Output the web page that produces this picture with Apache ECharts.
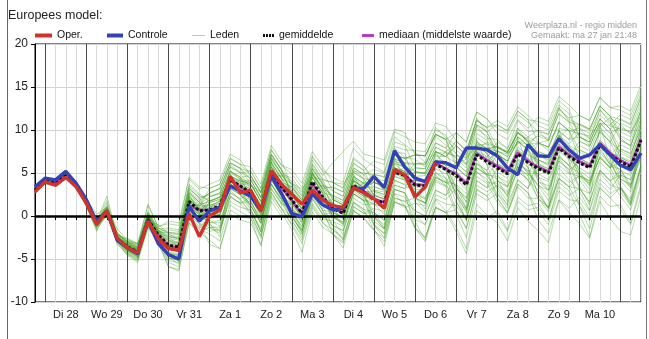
<!DOCTYPE html>
<html>
<head>
<meta charset="utf-8">
<script src="https://cdn.jsdelivr.net/npm/echarts@6/dist/echarts.min.js"></script>
<style>
html,body{margin:0;padding:0;background:#fff;}
#c{width:649px;height:339px;}
</style>
</head>
<body>
<div id="c"></div>
<script>
// Time axis: one step every 6 hours, first step is ma 27 jan 18:00
const startUur = 18;
const stapUren = 6;
const aantalStappen = 60;

// Day labels, placed at 12:00 of each day
const dagen = ['Di 28','Wo 29','Do 30','Vr 31','Za 1','Zo 2','Ma 3','Di 4','Wo 5','Do 6','Vr 7','Za 8','Zo 9','Ma 10'];

// y-axis
const yMin = -10, yMax = 20, yStap = 5;

// Operational run (°C)
const oper = [2.8, 4.0,3.6,4.5,3.4, 1.5,-1.0,0.6,-2.6, -3.7,-4.3,-0.6,-2.6, -3.8,-4.0,0.3,-2.4,
  0.0,0.7,4.6,2.7, 3.0,0.6,5.3,3.7, 2.5,1.4,3.0,1.9, 1.2,1.0,3.3,2.7, 2.0,0.9,5.4,4.8, 2.2,3.4,6.2];

// Control run (°C)
const controle = [3.4, 4.4,4.2,5.2,3.8, 1.9,-0.7,0.6,-2.8, -3.7,-4.4,-0.5,-3.2, -4.5,-5.0,1.1,-0.6,
  0.6,1.0,3.5,2.9, 2.3,0.6,4.7,2.6, 0.3,-0.1,2.6,1.3, 0.7,0.9,3.2,3.2, 4.6,3.3,7.6,5.7,
  4.4,4.0,6.3,6.2, 5.6,7.9,7.9,7.7, 7.0,5.6,4.8,8.3, 7.0,6.9,9.0,7.7, 6.7,7.1,8.3,7.1, 5.9,5.4,7.3];

// Ensemble mean (°C)
const gemiddelde = [3.0, 4.1,3.8,4.7,3.6, 1.6,-0.9,0.6,-2.6, -3.6,-4.2,-0.4,-2.2, -3.4,-3.6,1.7,0.6,
  0.7,1.2,4.2,3.5, 2.7,0.7,5.2,3.4, 1.9,0.3,4.0,2.2, 0.9,0.3,3.6,2.8, 1.9,1.5,5.1,4.7,
  3.6,3.5,6.0,5.4, 4.7,3.6,7.1,6.3, 5.6,4.9,7.2,6.2, 5.5,5.0,7.9,6.9, 6.2,5.6,8.3,7.1, 6.3,5.7,8.8];

// Ensemble median (°C)
const mediaan = [3.0, 4.1,3.8,4.7,3.6, 1.6,-0.9,0.6,-2.6, -3.6,-4.2,-0.4,-2.3, -3.5,-3.7,1.2,0.7,
  0.7,1.1,4.3,3.4, 2.6,0.6,5.0,3.3, 1.8,0.2,3.8,2.1, 0.8,0.4,3.5,2.9, 2.0,1.6,5.2,4.8,
  3.7,3.6,6.2,5.5, 4.9,3.8,7.3,6.5, 5.8,5.1,7.4,6.4, 5.7,5.2,8.1,7.1, 6.4,5.8,8.5,7.3, 6.5,5.9,9.0];

// Ensemble members (°C)
const leden = [
 [2.7, 3.9,3.6,4.5,3.3, 1.3,-1.2,0.4,-2.9, -4.1,-4.8,-0.8,-2.7, -4.5,-5.2,0.6,-0.8, -1.4,-2.0,2.4,1.4, 0.2,-2.3,2.8,0.8, -0.9,-2.8,1.3,-0.7, -2.1,-3.2,0.7,-0.3, -1.7,-2.6,1.7,1.0, 1.5,1.2,4.2,3.5, 5.0,4.0,7.8,6.9, 8.0,7.5,9.8,8.6, 9.3,8.8,11.9,10.9, 10.6,10.0,12.8,11.6, 11.2,10.6,13.9],
 [3.2, 4.4,4.1,5.0,3.9, 2.1,-0.4,1.1,-2.0, -2.9,-3.3,0.4,-1.4, -1.9,-2.0,3.3,2.0, 2.6,3.2,6.1,5.6, 4.2,2.2,6.8,4.9, 2.9,1.2,5.1,3.4, 3.3,2.8,6.2,5.3, 6.4,6.0,9.8,9.2, 8.6,8.4,10.8,10.4, 8.8,7.5,11.2,10.2, 8.1,7.3,9.7,8.8, 6.6,5.8,8.9,7.9, 5.3,4.4,7.4,6.0, 4.3,3.5,6.9],
 [2.9, 4.1,3.9,4.6,3.5, 1.4,-1.1,0.5,-2.8, -4.2,-4.8,-1.0,-2.8, -4.3,-4.5,1.0,-0.1, 1.0,1.8,4.6,4.1, 3.8,1.6,6.3,4.3, 3.8,2.3,6.1,4.3, 3.9,3.2,6.8,5.8, 4.3,4.1,7.4,7.3, 3.6,3.4,6.1,5.4, 2.3,0.6,4.6,3.8, 1.6,0.3,3.4,2.1, 2.0,1.0,4.3,3.4, 4.7,3.8,7.0,5.6, 7.8,7.3,10.2],
 [3.3, 4.3,4.0,4.9,3.8, 2.0,-0.5,1.8,-2.2, -2.6,-3.2,1.2,-1.2, -0.9,-1.1,4.3,3.1, 3.7,4.2,7.2,6.5, 4.7,2.7,7.1,5.4, 2.4,0.8,4.5,2.7, -0.1,-1.0,2.6,1.8, -0.6,-1.5,2.6,2.2, -0.4,-1.0,2.0,1.4, 1.2,-0.4,3.6,2.8, 3.6,2.6,5.2,4.2, 5.5,5.0,7.9,6.9, 8.7,8.1,10.8,9.6, 10.3,9.7,12.8],
 [2.6, 3.8,3.5,4.4,3.3, 1.1,-1.5,0.1,-3.1, -4.4,-5.1,-1.2,-3.0, -5.4,-5.9,-0.3,-1.4, -0.8,-0.5,2.7,2.0, 2.7,0.6,5.2,3.4, 3.4,1.8,5.5,3.7, 1.9,1.3,4.6,3.8, 1.9,1.3,5.1,4.7, 5.6,5.5,8.0,7.4, 8.7,7.6,11.1,10.3, 11.1,10.4,12.7,11.7, 10.5,10.0,12.9,11.9, 9.2,8.6,11.3,10.1, 6.8,6.2,9.3],
 [3.0, 4.2,3.9,4.8,3.7, 1.9,-0.6,0.9,-2.1, -3.1,-3.7,0.1,-1.7, -3.4,-3.6,1.7,0.6, -0.3,0.2,3.2,2.5, 0.7,-1.5,3.2,1.4, 0.9,-0.9,3.0,1.2, 1.4,0.8,4.1,3.3, 3.9,3.5,7.1,6.7, 7.1,7.0,9.5,8.9, 9.7,8.6,12.1,11.3, 9.6,8.9,11.2,10.2, 11.5,11.0,13.9,12.9, 11.7,11.1,13.8,12.6, 12.3,11.7,14.8],
 [3.2, 4.2,3.9,4.8,3.7, 1.5,-1.0,0.5,-2.7, -3.9,-4.5,-0.7,-2.5, -2.6,-2.8,2.5,1.4, 2.2,2.7,5.7,5.0, 5.2,3.2,7.7,5.9, 4.9,3.3,7.0,5.2, 2.9,2.3,5.6,4.8, 3.4,3.0,6.6,6.2, 2.1,1.5,4.5,3.9, 0.7,-1.5,3.1,2.3, 0.1,-1.8,1.7,0.7, 1.0,-0.5,3.4,2.4, 3.2,1.6,5.3,4.1, 2.3,0.7,4.8],
 [2.8, 4.0,3.7,4.6,3.5, 1.8,-0.7,0.8,-2.4, -3.3,-3.9,-0.1,-1.9, -3.9,-4.1,1.2,0.1, 0.2,0.7,3.7,3.0, 1.2,-0.8,3.7,1.9, -0.6,-2.2,1.5,-0.3, -0.6,-1.2,2.1,1.3, 1.4,1.0,4.6,4.2, 4.1,4.0,6.5,5.9, 5.7,4.6,8.1,7.3, 4.1,3.4,5.7,4.7, 2.0,1.0,4.4,3.4, 1.2,-0.6,3.3,2.1, 0.8,-1.0,3.3],
 [3.1, 4.4,4.1,5.0,3.9, 1.6,-0.9,1.5,-2.6, -3.2,-3.8,0.0,-1.8, -1.6,-1.8,3.5,2.4, 1.7,2.2,5.2,4.5, 3.2,1.2,5.7,3.9, 1.9,0.3,4.0,2.2, 1.4,0.8,4.1,3.3, 3.4,3.0,6.6,6.2, 6.1,6.0,8.5,7.9, 6.7,5.6,9.1,8.3, 6.1,5.4,7.7,6.7, 4.0,3.5,6.4,5.4, 6.2,5.6,8.3,7.1, 8.3,7.7,10.8],
 [2.7, 3.7,3.4,4.3,3.2, 1.4,-1.1,0.4,-2.8, -4.4,-5.0,-1.2,-3.0, -5.9,-6.2,-0.8,-1.9, -1.3,-1.3,2.2,1.5, 1.7,-0.5,4.2,2.4, 1.4,-0.2,3.5,1.7, -0.1,-0.9,2.6,1.8, -1.1,-2.0,2.1,1.7, 0.6,0.0,3.0,2.4, 3.7,2.6,6.1,5.3, 7.1,6.4,8.7,7.7, 8.5,8.0,10.9,9.9, 7.7,7.1,9.8,8.6, 6.3,5.7,8.8],
 [3.4, 4.4,4.1,5.0,3.9, 1.8,-0.7,0.8,-2.4, -3.0,-3.6,0.2,-1.6, -2.4,-2.6,2.7,1.6, 0.2,0.7,3.7,3.0, 1.2,-0.8,3.7,1.9, -0.1,-1.7,2.0,0.2, -1.6,-2.7,1.1,0.3, 0.4,-0.5,3.6,3.2, 5.1,5.0,7.5,6.9, 8.2,7.1,10.6,9.8, 10.6,9.9,12.2,11.2, 8.5,8.0,10.9,9.9, 6.7,6.1,8.8,7.6, 5.8,5.2,8.3],
 [3.0, 3.9,3.6,4.5,3.4, 1.6,-0.9,0.6,-2.6, -4.0,-4.6,-0.8,-2.6, -4.4,-4.6,0.7,-0.4, 0.7,1.2,4.2,3.5, 4.2,2.2,6.7,4.9, 4.4,2.8,6.5,4.7, 6.2,7.5,8.7,7.2, 6.9,6.5,10.1,9.7, 7.1,7.0,9.5,8.9, 5.7,4.6,8.1,7.3, 5.6,4.9,7.2,6.2, 7.0,6.5,9.4,8.4, 9.7,9.1,11.8,10.6, 11.8,11.2,14.3],
 [2.9, 4.3,4.0,4.9,3.8, 1.7,-0.8,0.7,-2.5, -3.4,-4.0,-0.2,-2.0, -2.9,-3.1,2.2,1.1, 3.2,3.7,6.7,6.0, 5.7,3.7,8.2,6.4, 3.4,1.8,5.5,3.7, 0.9,0.3,3.6,2.8, -0.1,-1.5,3.1,2.7, 0.1,-1.0,2.5,1.9, 3.2,2.1,5.6,4.8, 6.1,5.4,7.7,6.7, 4.5,4.0,6.9,5.9, 3.2,2.6,5.3,4.1, 4.8,4.2,7.3],
 [3.3, 4.1,3.8,4.7,3.6, 1.3,-1.2,0.3,-2.9, -3.8,-4.4,-0.6,-2.4, -4.9,-5.1,0.2,-0.9, -1.8,-1.5,1.7,1.0, 0.7,-1.8,3.2,1.4, 1.4,-0.2,3.5,1.7, 1.9,1.3,4.6,3.8, 4.9,4.5,8.1,7.7, 7.6,7.5,10.0,9.4, 7.2,6.1,9.6,8.8, 5.1,4.4,6.7,5.7, 2.5,1.0,4.9,3.9, 4.7,4.1,6.8,5.6, 8.8,8.2,11.3],
 [2.8, 4.2,3.9,4.8,3.7, 2.0,-0.5,1.0,-2.2, -2.9,-3.5,0.3,-1.5, -1.4,-1.6,3.7,2.6, 1.7,2.2,5.2,4.5, 2.2,0.2,4.7,2.9, 0.4,-1.2,2.5,0.7, -1.1,-1.7,1.6,0.8, -1.6,-3.0,1.6,1.2, -1.4,-2.5,1.0,0.4, 1.7,-0.4,4.1,3.3, 5.6,4.9,7.2,6.2, 8.5,8.0,10.9,9.9, 10.2,9.6,12.3,11.1, 8.8,8.2,11.3],
 [3.1, 4.0,3.7,4.6,3.5, 1.3,-1.2,0.3,-2.9, -3.9,-4.5,-0.7,-2.5, -3.1,-3.3,2.0,0.9, 1.2,1.7,4.7,4.0, 3.7,1.7,6.2,4.4, 2.9,1.3,5.0,3.2, 2.4,1.8,5.1,4.3, 2.4,2.0,5.6,5.2, 3.1,3.0,5.5,4.9, 5.2,4.1,7.6,6.8, 8.6,7.9,10.2,9.2, 10.0,9.5,12.4,11.4, 11.7,11.1,13.8,12.6, 12.8,12.2,15.3],
 [2.7, 3.9,3.6,4.5,3.4, 1.7,-0.8,0.7,-2.5, -3.6,-4.2,-0.4,-2.2, -4.2,-4.4,0.9,-0.2, -0.3,0.2,3.2,2.5, 3.2,1.2,5.7,3.9, 1.9,0.3,4.0,2.2, -0.1,-0.7,2.6,1.8, 1.9,1.5,5.1,4.7, 6.1,6.0,8.5,7.9, 9.7,8.6,12.1,11.3, 10.2,9.6,11.8,10.9, 9.8,9.5,12.6,11.2, 10.7,10.1,12.8,11.6, 9.3,8.7,11.8],
 [3.2, 4.3,4.0,4.9,3.8, 1.6,-0.9,0.6,-2.6, -3.1,-3.7,0.1,-1.7, -2.2,-2.4,2.9,1.8, 2.7,3.2,6.2,5.5, 3.7,1.7,6.2,4.4, 0.9,-0.7,3.0,1.2, -1.1,-1.7,1.6,0.8, 0.4,-0.5,3.6,3.2, 3.6,3.5,6.0,5.4, 2.7,0.8,5.1,4.3, 2.1,0.4,3.7,2.7, 0.5,-1.0,2.9,1.9, 1.7,-0.2,3.8,2.6, 3.3,1.7,5.8],
 [3.0, 4.2,3.9,4.8,3.7, 1.2,-1.3,0.2,-3.0, -4.3,-4.9,-1.1,-2.9, -5.2,-5.4,-0.1,-1.2, -0.3,0.2,3.2,2.5, 1.2,-0.8,3.7,1.9, 0.9,-0.7,3.0,1.2, 0.9,0.3,3.6,2.8, 2.9,2.5,6.1,5.7, 4.1,4.0,6.5,5.9, 3.2,1.6,5.6,4.8, 2.6,1.4,4.2,3.2, 5.5,5.0,7.9,6.9, 8.2,7.6,10.3,9.1, 6.8,6.2,9.3],
 [3.4, 4.3,4.0,4.9,3.8, 1.9,-0.6,2.3,-2.3, -2.7,-3.3,1.4,-1.3, -0.6,-0.8,4.5,3.4, 3.2,3.7,6.7,6.0, 4.7,2.7,7.2,5.4, 3.9,2.3,6.0,4.2, 1.9,1.3,4.6,3.8, 3.9,3.5,7.1,6.7, 7.1,7.0,9.5,8.9, 7.7,6.6,10.1,9.3, 7.1,6.4,8.7,7.7, 6.0,5.5,8.4,7.4, 4.7,3.6,6.8,5.6, 3.3,2.0,5.8],
 [2.8, 3.8,3.5,4.4,3.3, 1.6,-0.9,0.6,-2.6, -3.9,-4.5,-0.7,-2.5, -3.4,-3.6,1.7,0.6, 1.5,2.0,5.0,4.3, 2.2,-0.2,4.7,2.9, 0.4,-1.2,2.5,0.7, 0.4,-0.2,3.1,2.3, 2.4,2.0,5.6,5.2, 1.6,0.5,4.0,3.4, 0.2,-2.5,2.6,1.8, 2.6,0.9,4.2,3.2, 6.5,6.0,8.9,7.9, 6.2,5.6,8.3,7.1, 4.3,3.7,6.8],
 [3.1, 4.1,3.8,4.7,3.6, 1.8,-0.7,0.8,-2.4, -3.4,-4.0,-0.2,-2.0, -3.7,-3.9,1.4,0.3, -0.8,-0.8,2.7,2.0, 0.2,-2.3,2.7,0.9, -1.1,-3.2,1.0,-0.8, -1.6,-2.5,1.1,0.3, 0.9,0.5,4.1,3.7, 3.6,3.5,6.0,5.4, 6.2,5.1,8.6,7.8, 8.1,7.4,9.7,8.7, 5.5,5.0,7.9,6.9, 4.2,2.6,6.3,5.1, 2.8,1.2,5.3],
 [2.9, 4.2,3.9,4.8,3.7, 1.5,-1.0,0.5,-2.7, -3.5,-4.1,-0.3,-2.1, -2.4,-2.6,2.7,1.6, 0.7,1.2,4.2,3.5, 3.2,1.2,5.7,3.9, 3.4,1.8,5.5,3.7, 2.9,2.3,5.6,4.8, 5.4,5.0,8.6,8.2, 5.6,5.5,8.0,7.4, 4.7,3.6,7.1,6.3, 7.6,6.9,9.2,8.2, 9.5,9.0,11.9,10.9, 8.7,8.1,10.8,9.6, 7.3,6.7,9.8],
 [3.2, 4.4,4.1,5.0,3.9, 1.9,-0.6,0.9,-2.3, -4.1,-4.7,-0.9,-2.7, -4.4,-4.6,0.7,-0.4, 1.7,2.2,5.2,4.5, 4.7,2.7,7.2,5.4, 2.4,0.8,4.5,2.7, 0.4,-0.2,3.1,2.3, 1.9,1.5,5.1,4.7, 5.1,5.0,7.5,6.9, 8.2,7.1,10.6,9.8, 7.1,6.4,8.7,7.7, 4.5,3.0,6.9,5.9, 7.7,7.1,9.8,8.6, 10.8,10.2,13.3],
 [2.6, 4.0,3.7,4.6,3.5, 1.4,-1.1,0.4,-2.8, -3.3,-3.9,-0.1,-1.9, -1.9,-2.1,3.2,2.1, 0.2,0.7,3.7,3.0, 1.7,-0.5,4.2,2.4, 2.4,0.8,4.5,2.7, 2.4,1.8,5.1,4.3, 2.4,2.0,5.6,5.2, 2.1,1.5,4.5,3.9, 3.7,1.6,6.1,5.3, 2.1,0.4,3.7,2.7, -0.5,-2.0,1.9,0.9, 2.2,0.6,4.3,3.1, 4.8,3.2,7.3],
 [3.0, 4.1,3.8,4.7,3.6, 1.7,-0.8,0.7,-2.5, -3.7,-4.3,-0.5,-2.3, -3.9,-4.1,1.2,0.1, 2.2,2.7,5.7,5.0, 3.2,1.2,5.7,3.9, 1.4,-0.2,3.5,1.7, 0.9,0.3,3.6,2.8, -1.1,-2.5,2.1,1.7, 2.1,1.5,4.5,3.9, 5.7,4.6,8.1,7.3, 5.6,4.9,7.2,6.2, 7.5,7.0,9.9,8.9, 10.7,10.1,12.8,11.6, 9.8,9.2,12.3],
 [3.3, 4.2,3.9,4.8,3.7, 1.4,-1.1,0.4,-2.8, -3.4,-4.0,-0.2,-2.0, -2.8,-3.0,2.3,1.2, 1.2,1.7,4.7,4.0, 4.2,2.2,6.7,4.9, 2.9,1.3,5.0,3.2, -0.1,-0.7,2.6,1.8, 1.4,1.0,4.6,4.2, 4.1,4.0,6.5,5.9, 3.2,2.1,5.6,4.8, 4.6,3.9,6.2,5.2, 3.5,3.0,5.9,4.9, 6.7,6.1,8.8,7.6, 4.8,4.2,7.3],
 [2.9, 3.9,3.6,4.5,3.4, 1.8,-0.7,0.8,-2.4, -3.8,-4.4,-0.6,-2.4, -3.6,-3.8,1.5,0.4, 0.2,0.7,3.7,3.0, 2.7,0.7,5.2,3.4, 2.4,0.8,4.5,2.7, 1.4,0.8,4.1,3.3, 3.9,3.5,7.1,6.7, 7.1,7.0,9.5,8.9, 6.2,5.1,8.6,7.8, 8.1,7.4,9.7,8.7, 6.0,5.5,8.4,7.4, 4.7,4.1,6.8,5.6, 6.3,5.7,8.8],
 [3.2, 4.3,4.0,4.9,3.8, 1.7,-0.8,0.7,-2.5, -3.1,-3.7,0.1,-1.7, -3.2,-3.4,1.9,0.8, -1.3,-1.8,2.2,1.5, 2.2,0.2,4.7,2.9, 2.9,1.3,5.0,3.2, 3.4,2.8,6.1,5.3, 2.9,2.5,6.1,5.7, 2.6,2.0,5.0,4.4, 1.7,-0.4,4.1,3.3, 4.1,3.4,5.7,4.7, 7.5,7.0,9.9,8.9, 9.2,8.6,11.3,10.1, 7.8,7.2,10.3],
 [2.8, 4.0,3.7,4.6,3.5, 1.3,-1.2,0.3,-2.9, -3.6,-4.2,-0.4,-2.2, -3.7,-3.9,1.4,0.3, 1.0,1.5,4.5,3.8, 1.7,-0.5,4.2,2.4, -0.1,-1.7,2.0,0.2, 0.4,-0.2,3.1,2.3, -0.1,-1.5,3.1,2.7, 0.6,0.0,3.0,2.4, 4.7,3.6,7.1,6.3, 7.6,6.9,9.2,8.2, 4.0,3.0,6.4,5.4, 1.2,-1.5,3.3,2.1, 3.3,1.2,5.8],
 [2.9, 3.8,3.5,4.4,3.3, 1.1,-1.6,0.1,-3.1, -4.6,-5.4,-1.4,-3.2, -5.9,-6.4,-0.8,-1.9, -2.8,-3.8,0.7,0.0, -0.3,-3.5,2.2,0.4, -1.6,-4.2,0.5,-1.3, -2.1,-3.7,0.6,-0.2, -1.6,-3.5,1.6,1.2, -1.4,-3.0,1.0,0.4, -1.8,-4.4,0.6,-0.2, 0.6,-1.6,2.2,1.2, 1.5,-0.5,3.9,2.9, 0.2,-2.4,2.3,1.1, 1.3,-0.8,3.8],
 [3.1, 4.3,4.0,4.9,3.8, 2.0,-0.5,1.0,-2.2, -3.3,-3.9,-0.1,-1.9, -2.4,-2.6,2.7,1.6, 2.7,3.2,6.2,5.5, 5.2,3.2,7.7,5.9, 5.4,3.8,7.5,5.7, 3.9,3.3,6.6,5.8, 3.9,3.5,7.1,6.7, 5.1,5.0,7.5,6.9, 8.7,7.6,11.1,10.3, 10.6,9.9,12.2,11.2, 11.0,10.5,13.4,12.4, 9.2,8.6,11.3,10.1, 11.3,10.7,13.8],
 [2.8, 4.0,3.7,4.6,3.5, 1.6,-0.9,0.6,-2.6, -4.0,-4.6,-0.8,-2.6, -4.9,-5.1,0.2,-0.9, -3.3,-3.8,0.2,-0.5, -0.8,-3.3,1.7,-0.1, 0.4,-1.7,2.5,0.7, -2.1,-3.0,0.6,-0.2, -0.1,-1.0,3.1,2.7, -1.4,-2.5,1.0,0.4, 0.7,-1.4,3.1,2.3, 3.6,2.4,5.2,4.2, 2.0,0.5,4.4,3.4, 3.2,1.6,5.3,4.1, 5.3,4.7,7.8],
 [3.0, 4.0,3.8,4.4,3.7, 2.0,0.2,1.0,-1.5, -2.8,-3.2,-0.5,-1.0, -2.0,-2.2,1.5,1.2, 1.8,2.2,3.9,3.8, 3.5,2.8,5.0,4.6, 3.8,3.1,4.6,4.2, 3.9,3.7,5.2,5.0, 4.8,4.6,6.3,6.1, 6.0,6.2,7.4,7.3, 7.0,6.8,8.3,8.0, 7.5,7.2,8.6,8.3, 8.5,8.8,10.2,9.9, 9.6,9.3,10.8,10.5, 10.1,9.8,11.6],
 [2.9, 4.0,3.5,4.8,3.4, 1.2,-1.8,0.9,-3.3, -4.5,-5.2,0.2,-2.9, -4.6,-5.3,2.5,0.3, -0.9,-2.4,4.9,2.8, 0.9,-1.9,6.3,3.0, 0.2,-2.1,5.2,2.1, -0.5,-2.2,4.9,2.4, 0.5,-1.4,6.8,4.3, 2.2,0.8,7.6,5.2, 2.6,-0.6,8.9,5.9, 3.1,1.2,9.2,5.5, 2.5,0.9,10.1,6.3, 3.4,1.3,10.6,6.6, 3.5,1.4,11.2],
 [3.1, 4.2,4.0,4.5,4.1, 2.2,-0.3,0.3,-1.9, -3.2,-3.9,-1.2,-1.6, -2.8,-3.5,0.6,1.4, 1.6,1.9,3.3,4.4, 3.8,2.1,4.1,4.8, 3.2,1.5,2.9,3.6, 2.1,1.2,2.8,3.9, 3.0,2.8,4.6,5.8, 5.2,4.9,6.4,7.5, 6.8,6.0,7.7,8.6, 8.0,7.3,8.4,9.2, 8.5,7.6,9.1,10.3, 9.4,8.2,10.5,11.4, 10.6,9.5,12.2],
 [2.8, 3.9,3.6,4.5,3.2, 1.2,-1.3,0.3,-3.0, -4.0,-4.6,-0.9,-2.8, -4.3,-4.9,1.0,-0.5, -1.0,-1.7,3.0,1.8, 0.5,-1.8,3.8,1.5, -0.4,-2.5,2.3,0.2, -1.2,-2.8,1.6,0.5, -0.9,-2.1,2.6,1.2, -0.6,-2.8,1.9,0.6, -1.3,-3.8,1.4,0.1, -0.8,-2.9,1.0,-0.6, -1.7,-3.1,1.8,0.4, -0.9,-2.6,1.7,-0.3, -1.8,-2.2,2.4],
 [3.0, 4.2,3.8,4.7,3.6, 1.5,-1.0,0.5,-2.5, -3.5,-4.0,-0.3,-2.0, -3.0,-3.2,2.2,1.0, 1.4,1.0,5.3,4.2, 3.6,1.8,6.5,4.8, 4.1,2.6,6.8,5.3, 4.5,3.9,7.9,6.6, 5.8,5.1,9.2,8.3, 7.4,6.2,10.3,9.1, 8.2,6.8,11.4,9.7, 7.5,6.1,10.2,8.4, 6.3,4.8,9.4,7.5, 5.2,3.5,8.6,6.2, 4.1,2.8,7.9],
 [3.2, 4.1,3.9,4.6,3.5, 1.4,-0.8,0.8,-2.3, -3.3,-3.8,-0.2,-2.4, -3.8,-4.2,0.8,-0.3, -0.5,-1.2,3.6,2.4, 1.5,-0.9,4.4,2.0, 0.6,-1.5,3.3,1.4, 0.8,-0.4,4.0,2.9, 2.6,1.8,6.0,5.1, 4.5,3.8,7.2,6.1, 5.0,3.3,7.6,6.0, 4.8,3.4,6.5,4.9, 3.5,1.8,5.6,4.2, 2.9,0.7,5.0,3.6, 3.2,1.5,6.1],
 [3.1, 4.3,3.9,4.9,3.7, 1.8,-0.5,1.2,-2.0, -3.0,-3.4,0.6,-1.4, -2.1,-2.7,3.1,2.2, 2.4,2.5,5.9,5.1, 4.4,2.9,7.0,5.3, 3.6,2.0,5.8,3.9, 2.2,1.5,5.4,4.4, 4.0,3.1,7.9,6.8, 6.6,5.7,9.3,8.2, 7.3,5.9,10.5,9.0, 8.9,7.8,11.1,9.8, 9.9,8.7,12.6,11.0, 10.2,8.9,12.4,10.8, 9.1,8.0,12.5],
 [2.9, 4.0,3.7,4.6,3.4, 1.4,-1.3,0.2,-2.9, -3.9,-4.7,-1.1,-2.9, -4.8,-5.6,-0.4,-1.5, -2.1,-2.9,1.3,0.5, -0.2,-2.6,2.4,0.9, -0.1,-1.9,2.9,1.8, 1.2,0.1,4.3,3.0, 2.4,1.1,5.7,4.0, 2.8,1.4,6.1,4.3, 3.5,0.9,6.6,4.6, 3.4,1.7,5.8,4.1, 3.0,0.8,6.8,5.0, 4.6,3.1,8.1,5.8, 5.4,3.3,9.6],
 [3.3, 4.3,4.1,4.8,3.9, 2.0,-0.4,0.9,-2.1, -3.0,-3.6,0.3,-1.7, -2.6,-3.2,2.0,0.9, 0.5,0.1,4.1,3.0, 2.2,0.1,5.3,3.6, 2.0,0.2,4.9,3.1, 1.6,0.4,4.4,3.6, 2.8,2.2,6.4,5.7, 4.6,4.7,7.0,6.9, 6.2,6.6,8.2,8.4, 7.9,7.4,9.6,9.0, 7.4,6.2,9.0,8.1, 6.9,5.9,8.3,7.0, 6.1,5.0,8.5],
 [2.7, 3.8,3.5,4.4,3.3, 1.5,-1.2,0.5,-2.7, -3.8,-4.5,-0.5,-2.4, -3.6,-4.0,1.3,0.2, 0.0,0.4,3.9,3.2, 2.0,0.3,4.6,2.7, 1.1,-0.5,3.4,1.5, 0.2,-0.9,2.9,2.0, 1.4,0.2,4.2,3.6, 2.8,1.9,4.8,3.5, 2.5,0.4,5.2,3.9, 3.8,2.8,6.0,5.3, 4.9,4.2,7.5,6.6, 5.6,4.9,8.1,7.3, 6.9,6.4,9.9],
 [3.1, 4.2,3.9,4.7,3.7, 1.7,-0.8,0.7,-2.5, -3.6,-4.1,-0.4,-2.1, -3.3,-3.5,1.9,0.8, 1.0,1.5,4.5,3.9, 3.1,1.3,5.9,4.3, 2.7,0.9,4.8,3.0, 1.5,0.6,4.2,3.4, 2.2,1.0,5.3,4.5, 3.0,2.1,5.1,4.0, 2.9,0.8,6.0,4.9, 4.3,2.2,6.6,5.0, 3.7,2.4,7.1,5.8, 5.0,3.8,7.7,6.1, 5.4,3.6,8.0],
 [3.0, 4.1,3.8,4.6,3.6, 1.6,-0.9,0.7,-2.6, -3.7,-4.3,-0.6,-2.3, -3.5,-3.8,1.6,0.4, 0.4,0.9,4.0,3.2, 2.4,0.4,4.9,3.1, 1.6,0.0,3.8,2.0, 0.6,-0.2,3.2,2.5, 1.6,1.2,4.9,4.4, 3.4,3.2,6.2,5.6, 4.4,3.0,7.4,6.6, 6.0,5.2,8.0,7.1, 6.5,6.1,9.3,8.2, 7.5,6.7,10.0,8.6, 7.6,6.9,10.9]
];

const FONT = '"Liberation Sans", Arial, Helvetica, sans-serif';
const KLEUR_OPER = '#d2322c';
const KLEUR_CONTROLE = '#3340b6';
const KLEUR_LEDEN = '#3f9f1f';
const KLEUR_MEDIAAN = '#b83cc4';

// Step indices falling on midnight (day separators) and noon (day labels)
const uurVan = i => (startUur + i * stapUren) % 24;
const stappen = Array.from({length: aantalStappen}, (_, i) => i);
const middernacht = stappen.filter(i => uurVan(i) === 0);
const middag = stappen.filter(i => uurVan(i) === 12);

const punten = arr => arr.map((v, i) => [i, v]);

const series = [];

// Day separators (dark vertical lines)
series.push({
  type: 'line', name: 'dagscheiding', data: [], silent: true, z: 1,
  markLine: {
    silent: true, symbol: 'none', animation: false,
    label: {show: false},
    lineStyle: {color: '#4a4a4a', width: 1, type: 'solid'},
    emphasis: {disabled: true},
    data: middernacht.map(i => ({xAxis: i}))
  }
});

// Ensemble members
leden.forEach(lid => {
  series.push({
    type: 'line', name: 'Leden', data: punten(lid),
    symbol: 'none', silent: true, z: 2,
    lineStyle: {color: KLEUR_LEDEN, width: 1, opacity: 0.38},
    itemStyle: {color: KLEUR_LEDEN},
    emphasis: {disabled: true}
  });
});

// Zero line
series.push({
  type: 'line', name: 'nullijn', data: [], silent: true, z: 3,
  markLine: {
    silent: true, symbol: 'none', animation: false,
    label: {show: false},
    lineStyle: {color: '#000', width: 2.6, type: 'solid'},
    emphasis: {disabled: true},
    data: [{yAxis: 0}]
  }
});

series.push({
  type: 'line', name: 'mediaan (middelste waarde)', data: punten(mediaan), symbol: 'none', z: 4,
  lineStyle: {color: KLEUR_MEDIAAN, width: 2.4}, itemStyle: {color: KLEUR_MEDIAAN},
  emphasis: {disabled: true}
});
series.push({
  type: 'line', name: 'gemiddelde', data: punten(gemiddelde), symbol: 'none', z: 5,
  lineStyle: {color: '#111', width: 3, type: [3, 2]}, itemStyle: {color: '#111'},
  emphasis: {disabled: true}
});
series.push({
  type: 'line', name: 'Controle', data: punten(controle), symbol: 'none', z: 6,
  lineStyle: {color: KLEUR_CONTROLE, width: 3.4}, itemStyle: {color: KLEUR_CONTROLE},
  emphasis: {disabled: true}
});
series.push({
  type: 'line', name: 'Oper.', data: punten(oper), symbol: 'none', z: 7,
  lineStyle: {color: KLEUR_OPER, width: 3.4}, itemStyle: {color: KLEUR_OPER},
  emphasis: {disabled: true}
});

const legendeTekst = {fontSize: 10.5, color: '#111', fontFamily: FONT};
function legende(naam, left, breedte, hoogte, icoon, kleur) {
  const item = {name: naam, icon: icoon};
  if (kleur) item.itemStyle = {color: kleur};
  return {
    data: [item], left: left, top: 30, padding: 0,
    itemWidth: breedte, itemHeight: hoogte, itemGap: 0,
    selectedMode: false, textStyle: legendeTekst
  };
}

const option = {
  animation: false,
  backgroundColor: '#fff',
  textStyle: {fontFamily: FONT},
  title: [
    {text: 'Europees model:', left: 8, top: 9, padding: 0,
     textStyle: {fontSize: 12.5, fontWeight: 'normal', color: '#222', fontFamily: FONT}},
    {text: 'Weerplaza.nl - regio midden', right: 12, top: 21, padding: 0,
     textStyle: {fontSize: 9, fontWeight: 'normal', color: '#9c9c9c', fontFamily: FONT}},
    {text: 'Gemaakt: ma 27 jan 21:48', right: 12, top: 31, padding: 0,
     textStyle: {fontSize: 9, fontWeight: 'normal', color: '#9c9c9c', fontFamily: FONT}}
  ],
  legend: [
    legende('Oper.', 35, 17, 4, 'rect'),
    legende('Controle', 107, 16, 4, 'rect'),
    legende('Leden', 192, 13, 1, 'rect', 'rgba(110,175,85,0.55)'),
    legende('gemiddelde', 263, 11, 3, 'path://M0,0h2v3h-2zM3,0h2v3h-2zM6,0h2v3h-2zM9,0h2v3h-2z'),
    legende('mediaan (middelste waarde)', 362, 12, 3, 'rect')
  ],
  grid: {left: 35, right: 8, top: 44, bottom: 37, show: true, borderColor: '#000', borderWidth: 1, backgroundColor: 'transparent'},
  xAxis: {
    type: 'value', min: 0, max: aantalStappen - 1, interval: 1,
    axisLine: {show: true, lineStyle: {color: '#000', width: 1}},
    axisTick: {show: true, length: 4, lineStyle: {color: '#000'}},
    splitLine: {show: true, lineStyle: {color: '#d9d9d9', width: 1}},
    axisLabel: {
      show: true, margin: 7, fontSize: 11, color: '#222', fontFamily: FONT,
      showMinLabel: true, showMaxLabel: true, hideOverlap: false,
      formatter: v => { const k = middag.indexOf(v); return k >= 0 && k < dagen.length ? dagen[k] : ''; }
    }
  },
  yAxis: {
    type: 'value', min: yMin, max: yMax, interval: yStap,
    axisLine: {show: true, lineStyle: {color: '#000', width: 1}},
    axisTick: {show: true, length: 4, lineStyle: {color: '#000'}},
    splitLine: {show: true, lineStyle: {color: '#d2d2d2', width: 1}},
    axisLabel: {margin: 7, fontSize: 12, color: '#222', fontFamily: FONT}
  },
  graphic: [
    {type: 'line', shape: {x1: 7.5, y1: 0, x2: 7.5, y2: 339}, style: {stroke: '#666', lineWidth: 1}, silent: true},
    {type: 'line', shape: {x1: 646.5, y1: 0, x2: 646.5, y2: 339}, style: {stroke: '#777', lineWidth: 1}, silent: true}
  ],
  series: series
};

const chart = echarts.init(document.getElementById('c'), null, {renderer: 'canvas'});
chart.setOption(option);
</script>
</body>
</html>
